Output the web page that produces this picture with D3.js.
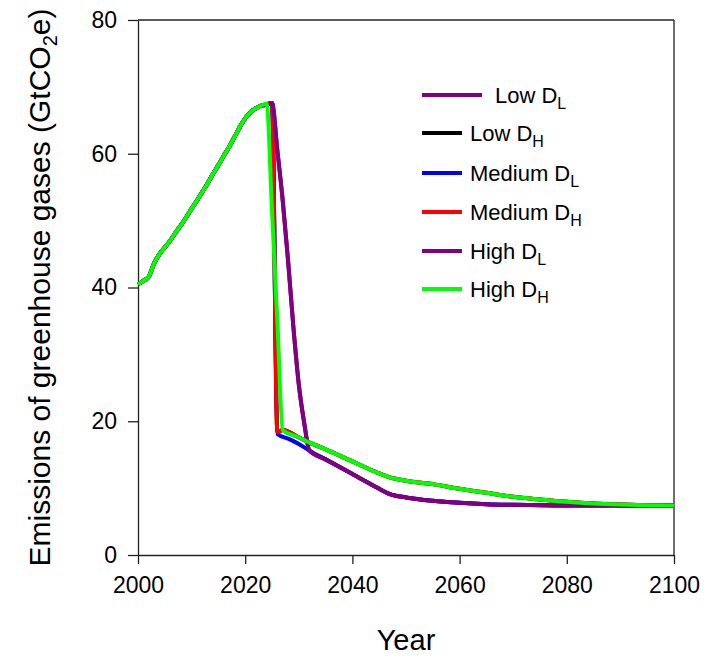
<!DOCTYPE html>
<html>
<head>
<meta charset="utf-8">
<script src="https://cdn.jsdelivr.net/npm/d3@7/dist/d3.min.js"></script>
<style>
  html, body { margin: 0; padding: 0; background: #fff; }
  svg { display: block; font-family: "Liberation Sans", Arial, Helvetica, sans-serif; }
</style>
</head>
<body>
<svg id="chart" width="705" height="660"></svg>
<script>
// ---- Data ----
const baseYears  = [2000,2001,2002,2003,2004,2005,2006,2007,2008,2009,2010,2011,2012,2013,2014,2015,2016,2017,2018,2019,2020,2021,2022,2023];
const baseValues = [40.5,41.0,41.6,43.6,45.0,46.0,47.0,48.2,49.3,50.5,51.8,53.0,54.3,55.6,57.0,58.3,59.7,61.0,62.5,64.0,65.3,66.2,66.8,67.2];

// Tail of High D_H (green)
const highDHYears  = [2024,2025,2026,2027,2030,2032,2035,2040,2045,2047,2050,2055,2060,2065,2070,2075,2080,2085,2090,2095,2100];
const highDHValues = [67.5,51.5,35.0,18.7,17.6,16.8,15.8,14.0,12.2,11.6,11.1,10.6,9.9,9.3,8.7,8.3,7.95,7.7,7.55,7.45,7.4];

// Tail of High D_L / Low D_L (purple)
const highDLYears  = [2024,2025,2026,2027,2028,2029,2030,2031,2032,2035,2040,2045,2047,2050,2055,2060,2065,2070,2080,2090,2100];
const highDLValues = [67.3,67.6,60.5,53.0,44.0,34.0,25.5,19.8,15.6,14.3,12.1,9.9,9.1,8.6,8.1,7.8,7.6,7.5,7.4,7.4,7.4];

// Tail of Medium D_L (blue)
const medDLYears  = [2024,2025,2026,2028,2030,2032,2035,2040,2045,2047,2050,2055,2060,2065,2070,2080,2090,2100];
const medDLValues = [67.3,67.6,18.1,17.4,16.6,15.6,14.3,12.1,9.9,9.1,8.6,8.1,7.8,7.6,7.5,7.4,7.4,7.4];

// Tail of Medium D_H (red) and Low D_H (black)
const medDHYears  = [2024,2025,2026,2027,2030,2032,2035,2040,2045,2047,2050,2055,2060,2065,2070,2075,2080,2085,2090,2095,2100];
const medDHValues = [67.4,67.6,18.4,18.7,17.6,16.8,15.8,14.0,12.2,11.6,11.1,10.6,9.9,9.3,8.7,8.3,7.95,7.7,7.55,7.45,7.4];

const seriesNames  = ["Low D", "Low D", "Medium D", "Medium D", "High D", "High D"];
const seriesSubs   = ["L", "H", "L", "H", "L", "H"];
const seriesColors = ["#800080", "#000000", "#0000ff", "#ff0000", "#800080", "#00ff00"];
const seriesTails  = [
  [highDLYears, highDLValues],
  [medDHYears, medDHValues],
  [medDLYears, medDLValues],
  [medDHYears, medDHValues],
  [highDLYears, highDLValues],
  [highDHYears, highDHValues]
];

const xTicks = [2000, 2020, 2040, 2060, 2080, 2100];
const yTicks = [0, 20, 40, 60, 80];

// ---- Layout ----
const svg = d3.select("#chart");
const mLeft = 138, mRight = 674, mTop = 20, mBottom = 555;

const x = d3.scaleLinear().domain([2000, 2100]).range([mLeft, mRight]);
const y = d3.scaleLinear().domain([0, 80]).range([mBottom, mTop]);

// frame top/right
svg.append("line").attr("x1", mLeft).attr("x2", mRight).attr("y1", mTop).attr("y2", mTop)
  .attr("stroke", "#222").attr("stroke-width", 1.3);
svg.append("line").attr("x1", mRight).attr("x2", mRight).attr("y1", mTop).attr("y2", mBottom)
  .attr("stroke", "#222").attr("stroke-width", 1.3);

// axes
const yAxis = svg.append("g").attr("transform", `translate(${mLeft},0)`)
  .call(d3.axisLeft(y).tickValues(yTicks).tickSizeInner(10).tickSizeOuter(0).tickPadding(11).tickFormat(d3.format("d")));
const xAxis = svg.append("g").attr("transform", `translate(0,${mBottom})`)
  .call(d3.axisBottom(x).tickValues(xTicks).tickSizeInner(9).tickSizeOuter(0).tickPadding(13).tickFormat(d3.format("d")));
[xAxis, yAxis].forEach(g => {
  g.selectAll("text").attr("font-size", 23).attr("fill", "#000")
    .attr("font-family", '"Liberation Sans", Arial, sans-serif');
  g.selectAll("line, path").attr("stroke", "#222").attr("stroke-width", 1.3);
});

// lines
const line = d3.line().x(d => x(d[0])).y(d => y(d[1])).curve(d3.curveMonotoneX);
seriesTails.forEach((tail, i) => {
  const yrs = baseYears.concat(tail[0]);
  const vals = baseValues.concat(tail[1]);
  const pts = yrs.map((yr, j) => [yr, vals[j]]);
  svg.append("path").datum(pts).attr("d", line)
    .attr("fill", "none").attr("stroke", seriesColors[i]).attr("stroke-width", 4)
    .attr("stroke-linejoin", "round");
});

// legend
const legRowY = [95, 133, 173, 212, 251, 289];
seriesNames.forEach((name, i) => {
  const x1 = 422, x2 = i === 0 ? 482 : 462, tx = i === 0 ? 495 : 470;
  const ly = legRowY[i];
  svg.append("line").attr("x1", x1).attr("x2", x2).attr("y1", ly).attr("y2", ly)
    .attr("stroke", seriesColors[i]).attr("stroke-width", 4);
  const t = svg.append("text").attr("x", tx).attr("y", ly + 8).attr("font-size", 22).attr("fill", "#000");
  t.append("tspan").text(name);
  t.append("tspan").attr("font-size", 16).attr("dy", 6).text(seriesSubs[i]);
});

// axis titles
svg.append("text").attr("x", (mLeft + mRight) / 2).attr("y", 650).attr("text-anchor", "middle")
  .attr("font-size", 29).attr("fill", "#000").text("Year");

const yt = svg.append("text").attr("transform", `translate(50,${(mTop + mBottom) / 2}) rotate(-90)`)
  .attr("text-anchor", "middle").attr("font-size", 30).attr("fill", "#000");
yt.append("tspan").text("Emissions of greenhouse gases (GtCO");
yt.append("tspan").attr("font-size", 20).attr("dy", 7).text("2");
yt.append("tspan").attr("dy", -7).text("e)");
</script>
</body>
</html>
